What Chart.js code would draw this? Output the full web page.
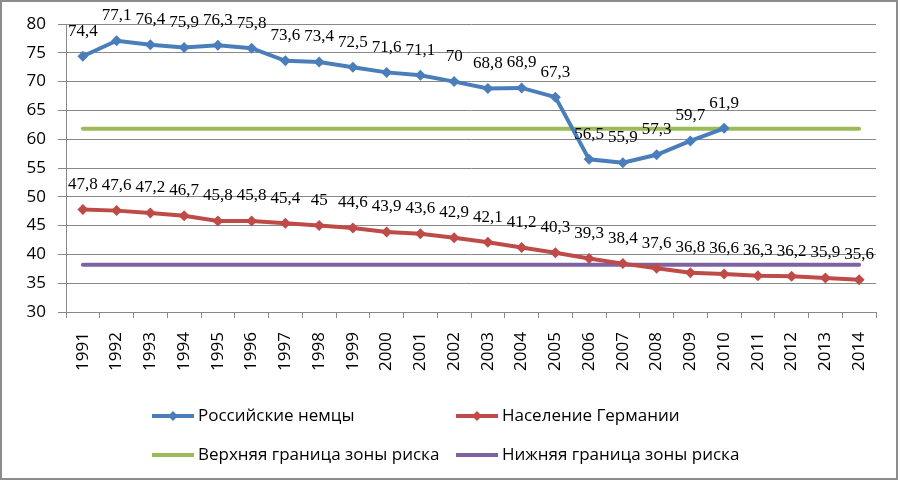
<!DOCTYPE html>
<html>
<head>
<meta charset="utf-8">
<script src="https://cdn.jsdelivr.net/npm/chart.js@4/dist/chart.umd.min.js"></script>
<style>
  html, body { margin: 0; padding: 0; background: #fff; }
  #wrap { width: 900px; height: 481px; position: relative; }
</style>
</head>
<body>
<div id="wrap"><canvas id="c" width="900" height="481"></canvas></div>
<script>
// ── data ──
const years = ['1991','1992','1993','1994','1995','1996','1997','1998','1999','2000','2001','2002',
               '2003','2004','2005','2006','2007','2008','2009','2010','2011','2012','2013','2014'];
const russianGermans = [74.4, 77.1, 76.4, 75.9, 76.3, 75.8, 73.6, 73.4, 72.5, 71.6, 71.1, 70,
                        68.8, 68.9, 67.3, 56.5, 55.9, 57.3, 59.7, 61.9, null, null, null, null];
const germanyPop = [47.8, 47.6, 47.2, 46.7, 45.8, 45.8, 45.4, 45, 44.6, 43.9, 43.6, 42.9,
                    42.1, 41.2, 40.3, 39.3, 38.4, 37.6, 36.8, 36.6, 36.3, 36.2, 35.9, 35.6];
const upperRisk = [61.8, 61.8, 61.8, 61.8, 61.8, 61.8, 61.8, 61.8, 61.8, 61.8, 61.8, 61.8,
                   61.8, 61.8, 61.8, 61.8, 61.8, 61.8, 61.8, 61.8, 61.8, 61.8, 61.8, 61.8];
const lowerRisk = [38.2, 38.2, 38.2, 38.2, 38.2, 38.2, 38.2, 38.2, 38.2, 38.2, 38.2, 38.2,
                   38.2, 38.2, 38.2, 38.2, 38.2, 38.2, 38.2, 38.2, 38.2, 38.2, 38.2, 38.2];
const seriesNames = ['Российские немцы', 'Население Германии',
                     'Верхняя граница зоны риска', 'Нижняя граница зоны риска'];

const BLUE = '#4A7EBB', RED = '#BE4B48', GREEN = '#9BBB59', PURPLE = '#7F63A1';
const GRID = '#888888';
const SANS = '"Open Sans", sans-serif';

/* ── value labels above points ── */
const valueLabels = {
  id: 'valueLabels',
  afterDatasetsDraw(chart) {
    const ctx = chart.ctx;
    ctx.save();
    ctx.font = '17px "Liberation Serif", serif';
    ctx.fillStyle = '#000';
    ctx.textAlign = 'center';
    ctx.textBaseline = 'middle';
    [0, 1].forEach(i => {
      const ds = chart.data.datasets[i];
      chart.getDatasetMeta(i).data.forEach((pt, j) => {
        const v = ds.data[j];
        if (v == null) return;
        ctx.fillText(String(v).replace('.', ','), pt.x, pt.y - 25);
      });
    });
    ctx.restore();
  }
};

/* ── frame + two-column legend ── */
const frameLegend = {
  id: 'frameLegend',
  afterDraw(chart) {
    const ctx = chart.ctx;
    ctx.save();
    ctx.strokeStyle = '#8c8c8c';
    ctx.lineWidth = 2;
    ctx.strokeRect(1, 1, 896, 478);

    const items = [
      { x: 152, y: 416, color: BLUE, marker: true },
      { x: 456, y: 416, color: RED, marker: true },
      { x: 152, y: 455, color: GREEN, marker: false },
      { x: 456, y: 455, color: PURPLE, marker: false }
    ];
    ctx.font = '17px ' + SANS;
    ctx.textBaseline = 'middle';
    ctx.textAlign = 'left';
    items.forEach((it, k) => {
      ctx.strokeStyle = it.color;
      ctx.lineWidth = 4;
      ctx.beginPath();
      ctx.moveTo(it.x, it.y);
      ctx.lineTo(it.x + 42, it.y);
      ctx.stroke();
      if (it.marker) {
        ctx.fillStyle = it.color;
        ctx.beginPath();
        const cx = it.x + 21, r = 5;
        ctx.moveTo(cx, it.y - r); ctx.lineTo(cx + r, it.y);
        ctx.lineTo(cx, it.y + r); ctx.lineTo(cx - r, it.y);
        ctx.closePath(); ctx.fill();
      }
      ctx.fillStyle = '#000';
      ctx.fillText(seriesNames[k], it.x + 46, it.y);
    });
    ctx.restore();
  }
};

new Chart(document.getElementById('c'), {
  type: 'line',
  data: {
    labels: years,
    datasets: [
      { label: seriesNames[0], data: russianGermans, borderColor: BLUE, backgroundColor: BLUE,
        borderWidth: 4, pointStyle: 'rectRot', pointRadius: 5.5, pointBorderWidth: 0, tension: 0 },
      { label: seriesNames[1], data: germanyPop, borderColor: RED, backgroundColor: RED,
        borderWidth: 4, pointStyle: 'rectRot', pointRadius: 5.5, pointBorderWidth: 0, tension: 0 },
      { label: seriesNames[2], data: upperRisk, borderColor: GREEN, backgroundColor: GREEN,
        borderWidth: 4, pointRadius: 0, borderCapStyle: 'round' },
      { label: seriesNames[3], data: lowerRisk, borderColor: PURPLE, backgroundColor: PURPLE,
        borderWidth: 4, pointRadius: 0, borderCapStyle: 'round' }
    ]
  },
  options: {
    responsive: false,
    animation: false,
    layout: { padding: { left: 6, right: 24, top: 24, bottom: 109 } },
    plugins: { legend: { display: false }, tooltip: { enabled: false } },
    scales: {
      x: {
        offset: true,
        grid: { offset: true, drawOnChartArea: false, color: GRID, tickLength: 6 },
        border: { color: GRID, width: 1 },
        ticks: { minRotation: 90, maxRotation: 90, padding: 14, color: '#000',
                 font: { family: SANS, size: 17 } },
        afterFit: s => { s.height = 60; }
      },
      y: {
        min: 30, max: 80,
        grid: { color: GRID, tickLength: 8 },
        border: { color: GRID, width: 1 },
        ticks: { stepSize: 5, padding: 12, color: '#000', font: { family: SANS, size: 17 } },
        afterFit: s => { s.width = 60; }
      }
    }
  },
  plugins: [valueLabels, frameLegend]
});
</script>
</body>
</html>
